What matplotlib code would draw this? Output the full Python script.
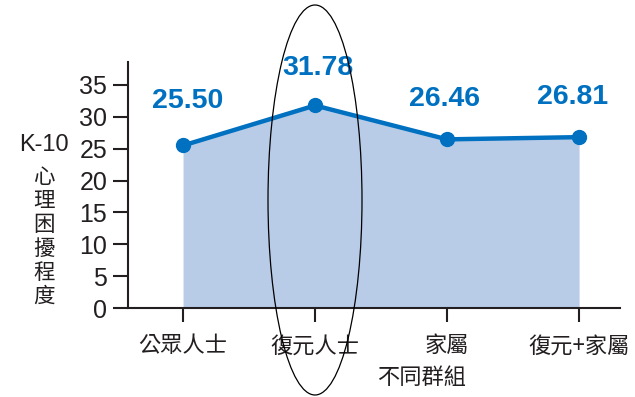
import matplotlib
matplotlib.use("Agg")
import matplotlib.pyplot as plt
from matplotlib.patches import Ellipse

categories = ["公眾人士", "復元人士", "家屬", "復元+家屬"]
values = [25.50, 31.78, 26.46, 26.81]
value_labels = ["25.50", "31.78", "26.46", "26.81"]
yticks = [0, 5, 10, 15, 20, 25, 30, 35]
ylabel_top = "K-10"
ylabel_chars = ["心", "理", "困", "擾", "程", "度"]
xlabel = "不同群組"

plt.rcParams['font.family'] = ['Liberation Sans', 'Noto Sans CJK TC', 'DejaVu Sans']
cjk = ['Noto Sans CJK TC', 'DejaVu Sans']

line_c = '#0070c0'
fill_c = '#b8cce8'
txt_c = '#231f20'

fig = plt.figure(figsize=(6.35, 3.97), dpi=100)
ax = fig.add_axes([128/635, 1-308/397, (620-128)/635, (308-62)/397])

x = list(range(len(categories)))
ax.fill_between(x, 0, values, color=fill_c, lw=0, zorder=1)
ax.plot(x, values, color=line_c, lw=3.2, marker='o', ms=10, zorder=3)

offsets = [(3, 32), (2, 27), (-2, 29), (-5, 29)]
for xi, v, lab, off in zip(x, values, value_labels, offsets):
    ax.annotate(lab, (xi, v), xytext=off, textcoords='offset points',
                ha='center', va='center', fontsize=20.5, fontweight='bold',
                color=line_c, family=['Liberation Sans'])

ax.set_xlim(-0.417, 3.31)
ax.set_ylim(0, 38.6)
ax.set_xticks(x)
ax.set_xticklabels(categories, family=cjk, fontsize=16, color=txt_c)
ax.set_yticks(yticks)
ax.set_yticklabels([str(t) for t in yticks], fontsize=18, color=txt_c)
ax.tick_params(axis='y', direction='out', length=11, width=1.5, pad=4, colors=txt_c)
ax.tick_params(axis='x', direction='out', length=10, width=1.5, pad=9, colors=txt_c)
for s in ['top', 'right']:
    ax.spines[s].set_visible(False)
for s in ['left', 'bottom']:
    ax.spines[s].set_linewidth(1.5)
    ax.spines[s].set_color(txt_c)

fig.text(69/635, 1-145/397, ylabel_top, ha='right', va='center', fontsize=17, color=txt_c)
for i, ch in enumerate(ylabel_chars):
    fig.text(44/635, 1-(177 + 24*i)/397, ch, ha='center', va='center',
             fontsize=15.5, color=txt_c, family=cjk)
fig.text(422/635, 1-378/397, xlabel, ha='center', va='center', fontsize=16,
         color=txt_c, family=cjk)

ell = Ellipse((315/635, 1-200/397), 94/635, 390/397, transform=fig.transFigure,
              fill=False, ec='black', lw=0.9, clip_on=False, zorder=10)
fig.patches.append(ell)

fig.savefig("out.png", dpi=100)
